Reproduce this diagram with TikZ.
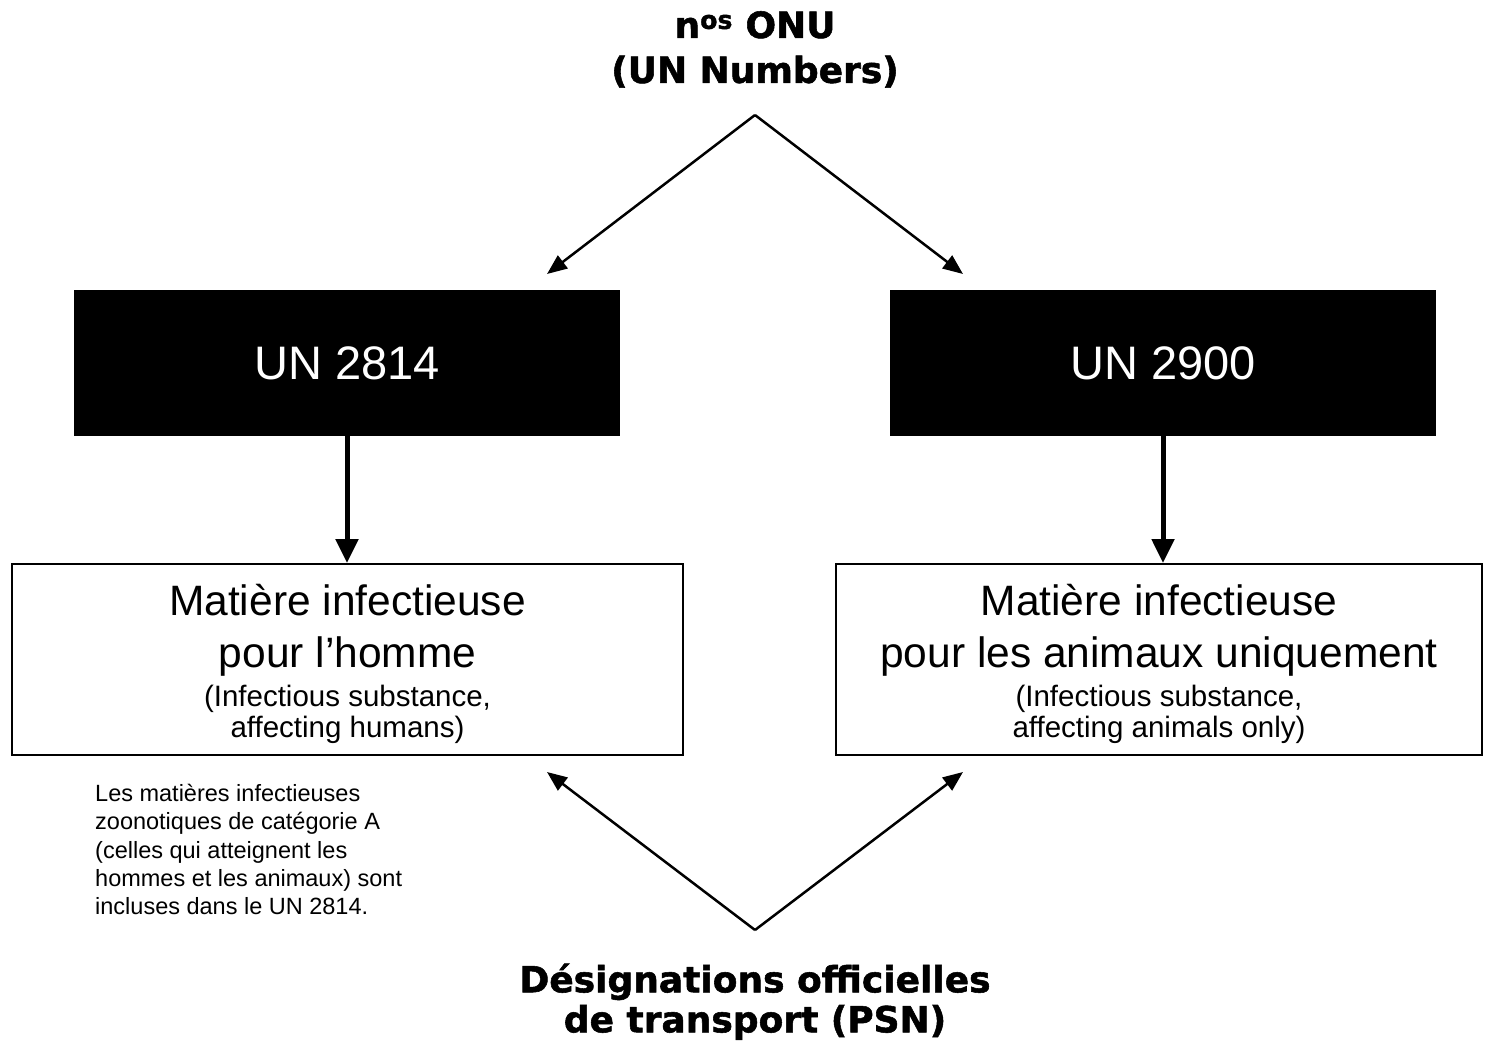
\documentclass[tikz,border=0pt]{standalone}
\usepackage{fontspec}
\setmainfont{Liberation Sans}
\newfontfamily\heavyfont{DejaVu Sans}[BoldFeatures={FakeBold=1.5}]
\usepackage{tikz}
\usetikzlibrary{calc}
\usetikzlibrary{arrows.meta}
\usetikzlibrary{positioning}

\tikzset{
    unbox/.style     = {fill=black, text=white, minimum width=546pt, minimum height=146pt, inner sep=0pt,
                        font=\fontsize{47}{56}\selectfont},
    namebox/.style   = {draw=black, line width=2pt, fill=white, minimum height=191pt, text width=640pt,
                        align=center, inner sep=0pt},
    thinarrow/.style = {line width=2.5pt, -{Triangle[length=20pt,width=16pt]}},
    thickarrow/.style= {line width=5pt,   -{Triangle[length=24pt,width=22pt]}},
    headtxt/.style   = {align=center, inner sep=0pt, font=\heavyfont\bfseries\fontsize{36}{45}\selectfont},
    notetxt/.style   = {align=left, inner sep=0pt, font=\fontsize{23.5}{28.3}\selectfont},
}
\newcommand{\bigline}{\fontsize{42.5}{52}\selectfont\spaceskip=0.278em\xspaceskip=0.278em\relax\rule{0pt}{40pt}}
\newcommand{\smallline}{\fontsize{29.5}{31}\selectfont\spaceskip=0.278em\xspaceskip=0.278em\relax}

\begin{document}
\begin{tikzpicture}[x=1pt, y=-1pt]
    \useasboundingbox (0,0) rectangle (1490,1043);
    \node[headtxt, anchor=north]  (onu)  at ( 755.0,  11.0) {n\textsuperscript{os} ONU\\(UN Numbers)};
    \node[unbox]                  (un1)  at ( 347.0, 363.0) {UN 2814};
    \node[unbox]                  (un2)  at (1163.0, 363.0) {UN 2900};
    \node[namebox, minimum width=671pt] (hum) at ( 347.5, 659.5)
        {{\bigline Matière infectieuse\\pour l’homme\par}\vspace{8pt}{\smallline (Infectious substance,\\affecting humans)\par}};
    \node[namebox, minimum width=646pt] (ani) at (1159.0, 659.5)
        {{\bigline Matière infectieuse\\pour les animaux uniquement\par}\vspace{8pt}{\smallline (Infectious substance,\\affecting animals only)\par}};
    \node[notetxt, anchor=north west] (note) at (  95.0, 784.0)
        {Les matières infectieuses\\zoonotiques de catégorie A\\(celles qui atteignent les\\hommes et les animaux) sont\\incluses dans le UN 2814.};
    \node[headtxt, anchor=south, font=\heavyfont\bfseries\fontsize{36}{40}\selectfont] (psn) at ( 755.0,1040.0)
        {Désignations officielles\\de transport (PSN)};
    \coordinate (top) at ( 755.0, 115.0);
    \coordinate (tl)  at ( 547.0, 274.0);
    \coordinate (tr)  at ( 963.0, 274.0);
    \coordinate (bot) at ( 755.0, 930.0);
    \coordinate (bl)  at ( 547.0, 772.0);
    \coordinate (br)  at ( 963.0, 772.0);
    \draw[thinarrow]  (top) -- (tl);
    \draw[thinarrow]  (top) -- (tr);
    \draw[thinarrow]  (bot) -- (bl);
    \draw[thinarrow]  (bot) -- (br);
    \draw[thickarrow] (un1.south) -- (un1.south |- hum.north);
    \draw[thickarrow] (un2.south) -- (un2.south |- ani.north);
\end{tikzpicture}
\end{document}
